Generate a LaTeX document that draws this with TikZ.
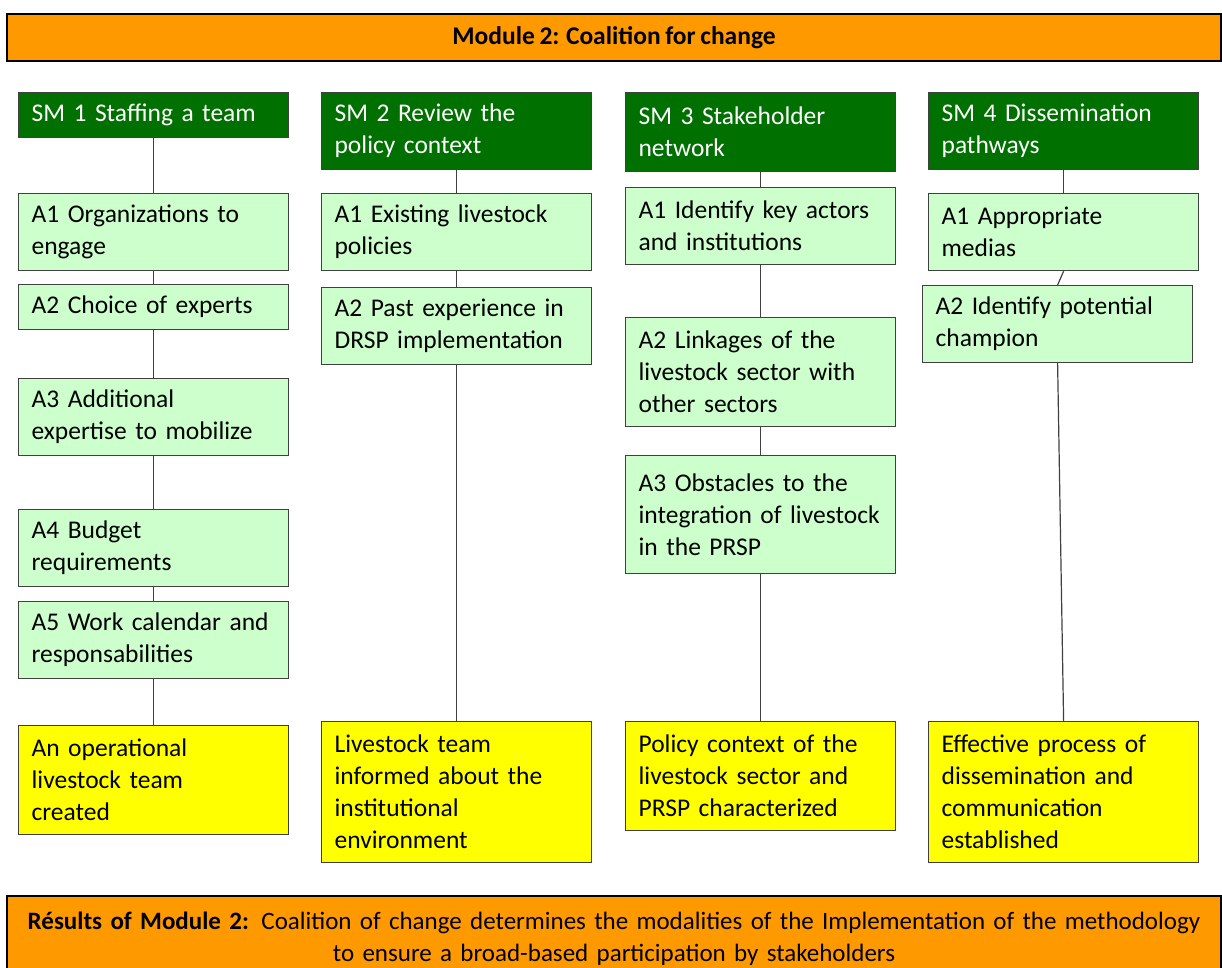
\documentclass[tikz,border=0pt]{standalone}
\usepackage{fontspec}
\setmainfont{Carlito}[WordSpace=0.8]
\definecolor{modorange}{RGB}{255,153,0}
\definecolor{smgreen}{RGB}{0,112,0}
\definecolor{actgreen}{RGB}{204,255,204}
\definecolor{resyellow}{RGB}{255,255,0}
\definecolor{edge}{RGB}{64,64,64}

\begin{document}
\begin{tikzpicture}[x=1pt,y=-1pt]
\tikzstyle{every node}+=[font=\fontsize{25.5}{32}\selectfont]
\tikzstyle{box}=[draw=edge, line width=1.2pt, rectangle, anchor=north west, minimum width=270pt, inner xsep=13pt, inner ysep=4pt, text width=244pt, align=left]
\tikzstyle{sm}=[box, fill=smgreen, text=white]
\tikzstyle{act}=[box, fill=actgreen]
\tikzstyle{res}=[box, fill=resyellow]
\tikzstyle{band}=[draw=black, line width=2pt, fill=modorange, minimum width=1214pt]
\tikzstyle{link}=[draw=edge, line width=1.2pt]
\useasboundingbox (0,0) rectangle (1222,967);
\node[band, minimum height=47pt, font=\fontsize{25.5}{30}\selectfont\bfseries] (mod) at (614,37.5) {Module 2: Coalition for change};
% SM 1
\node[sm, minimum height=45pt] (sm1) at (18,92) {SM 1 Staffing a team};
\node[act, minimum height=77pt] (sm1a1) at (18,193) {A1 Organizations to\\engage};
\node[act, minimum height=45pt] (sm1a2) at (18,284) {A2 Choice of experts};
\node[act, minimum height=77pt] (sm1a3) at (18,378) {A3 Additional\\expertise to mobilize};
\node[act, minimum height=77pt] (sm1a4) at (18,509) {A4 Budget\\requirements};
\node[act, minimum height=77pt] (sm1a5) at (18,601) {A5 Work calendar and\\responsabilities};
\node[res, minimum height=109pt] (sm1r) at (18,725) {An operational\\livestock team\\created};
% SM 2
\node[sm, minimum height=77pt] (sm2) at (321,92) {SM 2 Review the\\policy context};
\node[act, minimum height=77pt] (sm2a1) at (321,193) {A1 Existing livestock\\policies};
\node[act, minimum height=77pt] (sm2a2) at (321,287) {A2 Past experience in\\DRSP implementation};
\node[res, minimum height=141pt] (sm2r) at (321,721) {Livestock team\\informed about the\\institutional\\environment};
% SM 3
\node[sm, minimum height=79pt] (sm3) at (625,92) {SM 3 Stakeholder\\network};
\node[act, minimum height=77pt] (sm3a1) at (625,187) {A1 Identify key actors\\and institutions};
\node[act, minimum height=109pt] (sm3a2) at (625,317) {A2 Linkages of the\\livestock sector with\\other sectors};
\node[act, minimum height=118pt] (sm3a3) at (625,455) {A3 Obstacles to the\\integration of livestock\\in the PRSP};
\node[res, minimum height=109pt] (sm3r) at (625,721) {Policy context of the\\livestock sector and\\PRSP characterized};
% SM 4
\node[sm, minimum height=77pt] (sm4) at (928,92) {SM 4 Dissemination\\pathways};
\node[act, minimum height=77pt] (sm4a1) at (928,193) {A1 Appropriate\\medias};
\node[act, minimum height=77pt] (sm4a2) at (922,285) {A2 Identify potential\\champion};
\node[res, minimum height=141pt] (sm4r) at (928,721) {Effective process of\\dissemination and\\communication\\established};
% results band
\node[band, anchor=north, minimum height=85pt, inner ysep=6pt, text width=1200pt, align=center, font=\fontsize{25}{32}\selectfont] (out) at (614,895) {\textbf{Résults of Module 2:} Coalition of change determines the modalities of the Implementation of the methodology\\to ensure a broad-based participation by stakeholders};
% links
\draw[link] (sm1.south) -- (sm1a1.north);
\draw[link] (sm1a1.south) -- (sm1a2.north);
\draw[link] (sm1a2.south) -- (sm1a3.north);
\draw[link] (sm1a3.south) -- (sm1a4.north);
\draw[link] (sm1a4.south) -- (sm1a5.north);
\draw[link] (sm1a5.south) -- (sm1r.north);
\draw[link] (sm2.south) -- (sm2a1.north);
\draw[link] (sm2a1.south) -- (sm2a2.north);
\draw[link] (sm2a2.south) -- (sm2r.north);
\draw[link] (sm3.south) -- (sm3a1.north);
\draw[link] (sm3a1.south) -- (sm3a2.north);
\draw[link] (sm3a2.south) -- (sm3a3.north);
\draw[link] (sm3a3.south) -- (sm3r.north);
\draw[link] (sm4.south) -- (sm4a1.north);
\draw[link] (sm4a1.south) -- (sm4a2.north);
\draw[link] (sm4a2.south) -- (sm4r.north);
\end{tikzpicture}
\end{document}
